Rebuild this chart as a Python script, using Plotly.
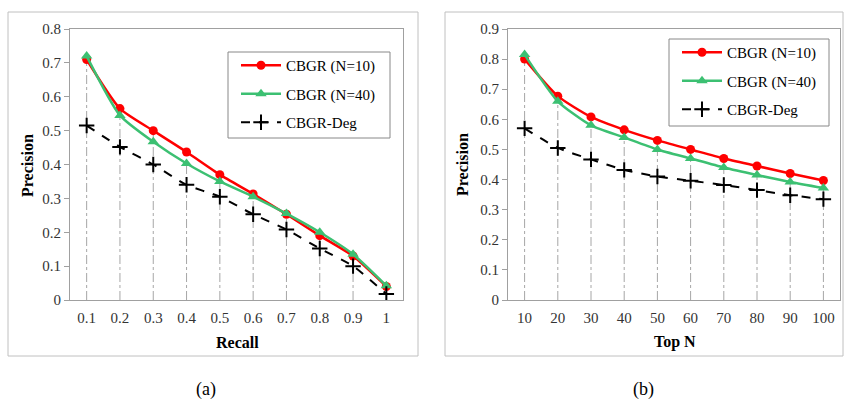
import plotly.graph_objects as go

W, H = 844, 399

# ---------------- data ----------------
recall_labels = ["0.1", "0.2", "0.3", "0.4", "0.5", "0.6", "0.7", "0.8", "0.9", "1"]
a_n10 = [0.71, 0.565, 0.50, 0.437, 0.37, 0.313, 0.253, 0.19, 0.13, 0.04]
a_n40 = [0.72, 0.545, 0.467, 0.403, 0.35, 0.305, 0.255, 0.20, 0.135, 0.042]
a_deg = [0.515, 0.452, 0.40, 0.34, 0.305, 0.253, 0.208, 0.152, 0.10, 0.018]

topn_labels = ["10", "20", "30", "40", "50", "60", "70", "80", "90", "100"]
b_n10 = [0.80, 0.677, 0.608, 0.565, 0.53, 0.50, 0.47, 0.445, 0.42, 0.397]
b_n40 = [0.815, 0.66, 0.58, 0.54, 0.50, 0.47, 0.44, 0.415, 0.392, 0.372]
b_deg = [0.57, 0.505, 0.467, 0.432, 0.41, 0.396, 0.382, 0.365, 0.348, 0.335]

series_names = ["CBGR (N=10)", "CBGR (N=40)", "CBGR-Deg"]
a_ticks = [0, 0.1, 0.2, 0.3, 0.4, 0.5, 0.6, 0.7, 0.8]
b_ticks = [0, 0.1, 0.2, 0.3, 0.4, 0.5, 0.6, 0.7, 0.8, 0.9]

FONT = "Liberation Serif"
RED = "#ff0000"
GREEN = "#3cc072"
GRID = "#a6a6a6"
FRAME = "#a0a0a0"


def px_x(p):
    return p / W


def px_y(p):
    return (H - p) / H


fig = go.Figure()


def add_panel(labels, s10, s40, sdeg, xa, ya, legend):
    # drop lines from highest point down to the axis
    dx, dy = [], []
    for i, lab in enumerate(labels):
        top = max(s10[i], s40[i], sdeg[i])
        dx += [lab, lab, None]
        dy += [0, top, None]
    fig.add_trace(go.Scatter(x=dx, y=dy, mode="lines", xaxis=xa, yaxis=ya,
                             line=dict(color=GRID, width=1, dash="dashdot"),
                             showlegend=False, hoverinfo="skip"))
    specs = [
        (s10, dict(color=RED, width=2.5), dict(symbol="circle", size=9, color=RED)),
        (s40, dict(color=GREEN, width=2.5), dict(symbol="triangle-up", size=10, color=GREEN)),
        (sdeg, dict(color="black", width=2, dash="dash"),
         dict(symbol="cross-thin", size=11, color="black", line=dict(color="black", width=2))),
    ]
    for k, (vals, ln, mk) in enumerate(specs):
        fig.add_trace(go.Scatter(x=labels, y=vals, name=series_names[k], mode="lines+markers",
                                 line=dict(shape="spline", smoothing=0.6, **ln), marker=mk,
                                 xaxis=xa, yaxis=ya, legend=legend,
                                 legendgroup=legend + str(k)))


add_panel(recall_labels, a_n10, a_n40, a_deg, "x", "y", "legend")
add_panel(topn_labels, b_n10, b_n40, b_deg, "x2", "y2", "legend2")

ydom = [px_y(300), px_y(29)]
axis_common = dict(showgrid=False, zeroline=False, showline=True, linecolor=FRAME,
                   linewidth=1, mirror=True, automargin=False,
                   tickfont=dict(family=FONT, size=15, color="#333"))

legend_common = dict(xanchor="left", yanchor="top", bgcolor="rgba(0,0,0,0)",
                     borderwidth=0, font=dict(family=FONT, size=15),
                     tracegroupgap=6, traceorder="grouped", itemwidth=40)

fig.update_layout(
    width=W, height=H, margin=dict(l=0, r=0, t=0, b=0, autoexpand=False),
    paper_bgcolor="white", plot_bgcolor="white",
    font=dict(family=FONT, size=15, color="black"),
    xaxis=dict(domain=[px_x(70), px_x(403)], anchor="y", type="category",
               range=[-0.5, 9.5], ticks="outside", ticklen=4,
               tickcolor="rgba(0,0,0,0)", **axis_common),
    yaxis=dict(domain=ydom, anchor="x", range=[0, 0.8], tickvals=a_ticks,
               ticktext=[f"{v:g}" for v in a_ticks], ticks="outside", ticklen=5,
               tickcolor=FRAME, **axis_common),
    xaxis2=dict(domain=[px_x(508), px_x(840)], anchor="y2", type="category",
                range=[-0.5, 9.5], ticks="outside", ticklen=4,
                tickcolor="rgba(0,0,0,0)", **axis_common),
    yaxis2=dict(domain=ydom, anchor="x2", range=[0, 0.9], tickvals=b_ticks,
                ticktext=[f"{v:g}" for v in b_ticks], ticks="outside", ticklen=5,
                tickcolor=FRAME, **axis_common),
    legend=dict(x=px_x(236), y=px_y(49), **legend_common),
    legend2=dict(x=px_x(677), y=px_y(36), **legend_common),
    showlegend=True,
)

# outer chart boxes
for x0, x1 in [(8, 418), (445, 843)]:
    fig.add_shape(type="rect", xref="paper", yref="paper",
                  x0=px_x(x0), x1=px_x(x1), y0=px_y(356), y1=px_y(12),
                  line=dict(color="#c0c0c0", width=1), fillcolor="rgba(0,0,0,0)",
                  layer="below")

# legend frames
for x0, x1, y0, y1 in [(228, 390, 138, 52), (669, 829, 126, 39)]:
    fig.add_shape(type="rect", xref="paper", yref="paper",
                  x0=px_x(x0), x1=px_x(x1), y0=px_y(y0), y1=px_y(y1),
                  line=dict(color="#888888", width=1), fillcolor="white",
                  layer="above")

# axis titles and captions
titles = [
    (237, 342, "Recall", 0),
    (675, 342, "Top N", 0),
    (27, 165, "Precision", -90),
    (462, 165, "Precision", -90),
]
for x, y, t, ang in titles:
    fig.add_annotation(x=px_x(x), y=px_y(y), xref="paper", yref="paper", text=f"<b>{t}</b>",
                       showarrow=False, textangle=ang,
                       font=dict(family=FONT, size=16, color="black"),
                       xanchor="center", yanchor="middle")
for x, t in [(206, "(a)"), (643, "(b)")]:
    fig.add_annotation(x=px_x(x), y=px_y(389), xref="paper", yref="paper", text=t,
                       showarrow=False, font=dict(family=FONT, size=18, color="black"),
                       xanchor="center", yanchor="middle")

fig.write_html("out.html", config={"displayModeBar": False},
               post_script="document.body.style.margin='0';")
